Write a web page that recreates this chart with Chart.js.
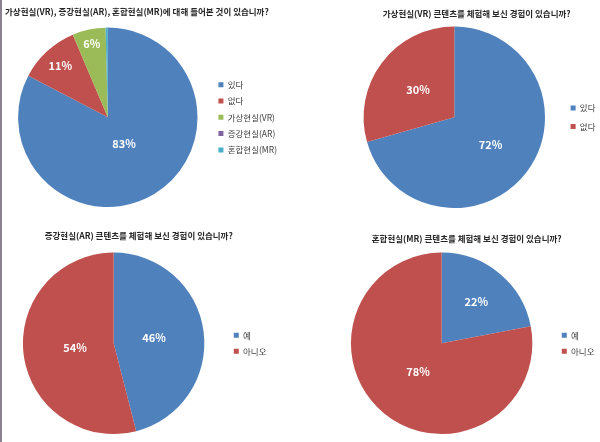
<!DOCTYPE html>
<html>
<head>
<meta charset="utf-8">
<script src="https://cdn.jsdelivr.net/npm/chart.js@4"></script>
<style>
  html, body { margin: 0; padding: 0; background: #fff; overflow: hidden; }
  #wrap { position: relative; width: 600px; height: 442px; overflow: hidden; }
  canvas { position: absolute; }
  #edge { position: absolute; left: 0; top: 0; width: 2px; height: 442px; background: #8a8290; }
</style>
</head>
<body>
<div id="wrap">
  <canvas id="c1" width="300" height="221" style="left:0;top:0"></canvas>
  <canvas id="c2" width="310" height="221" style="left:300px;top:0"></canvas>
  <canvas id="c3" width="300" height="221" style="left:0;top:221px"></canvas>
  <canvas id="c4" width="310" height="221" style="left:300px;top:221px"></canvas>
  <div id="edge"></div>
</div>
<script>
// survey answers (percent)
const q1Title = "가상현실(VR), 증강현실(AR), 혼합현실(MR)에 대해 들어본 것이 있습니까?";
const q1Labels = ["있다", "없다", "가상현실(VR)", "증강현실(AR)", "혼합현실(MR)"];
const q1Values = [83, 11, 6, 0, 0.4];

const q2Title = "가상현실(VR) 콘텐츠를 체험해 보신 경험이 있습니까?";
const q2Labels = ["있다", "없다"];
const q2Values = [72, 30];

const q3Title = "증강현실(AR) 콘텐츠를 체험해 보신 경험이 있습니까?";
const q3Labels = ["예", "아니오"];
const q3Values = [46, 54];

const q4Title = "혼합현실(MR) 콘텐츠를 체험해 보신 경험이 있습니까?";
const q4Labels = ["예", "아니오"];
const q4Values = [22, 78];

// office palette
const colors = ["#4f81bd", "#c0504d", "#9bbb59", "#8064a2", "#4bacc6"];
const fontFamily = "'Noto Sans CJK KR', 'Noto Sans', sans-serif";

// draws the % text inside each slice
const sliceLabels = {
    id: "sliceLabels",
    afterDatasetsDraw(chart, args, opts) {
        const ctx = chart.ctx;
        const meta = chart.getDatasetMeta(0);
        const values = chart.data.datasets[0].data;
        ctx.save();
        ctx.font = "bold 11px " + fontFamily;
        ctx.fillStyle = "#ffffff";
        ctx.textAlign = "center";
        ctx.textBaseline = "middle";
        meta.data.forEach((arc, i) => {
            if (values[i] < 1) return; // too thin for a label
            const p = arc.getProps(["x", "y", "startAngle", "endAngle", "outerRadius"], true);
            const mid = (p.startAngle + p.endAngle) / 2;
            const r = p.outerRadius * opts.dist[i];
            ctx.fillText(values[i] + "%", p.x + Math.cos(mid) * r, p.y + Math.sin(mid) * r);
        });
        ctx.restore();
    }
};

function makePie(id, title, labels, values, s) {
    return new Chart(document.getElementById(id), {
        type: "pie",
        data: {
            labels: labels,
            datasets: [{
                data: values,
                backgroundColor: colors.slice(0, values.length),
                borderWidth: 0
            }]
        },
        options: {
            responsive: false,
            animation: false,
            devicePixelRatio: 1,
            layout: { padding: s.padding },
            plugins: {
                title: {
                    display: true,
                    text: title,
                    align: s.titleAlign,
                    color: "#262626",
                    font: { family: fontFamily, size: 8.5, weight: "bold" },
                    padding: s.titlePad
                },
                legend: {
                    position: "right",
                    align: "center",
                    fullSize: false,
                    labels: {
                        boxWidth: 5,
                        boxHeight: 5,
                        padding: s.legendGap,
                        color: "#404040",
                        font: { family: fontFamily, size: 8.5 }
                    }
                },
                tooltip: { enabled: false },
                sliceLabels: { dist: s.labelDist }
            }
        },
        plugins: [sliceLabels]
    });
}

makePie("c1", q1Title, q1Labels, q1Values, {
    padding: { left: 5, right: 13, top: 0, bottom: 14 },
    titleAlign: "start",
    titlePad: { top: 6.8, bottom: 10.6 },
    legendGap: 7.8,
    labelDist: [0.35, 0.78, 0.84, 0.8, 0.8]
});

makePie("c2", q2Title, q2Labels, q2Values, {
    padding: { left: 48, right: 4.5, top: 0, bottom: 13 },
    titleAlign: "center",
    titlePad: { top: 8.8, bottom: 7.6 },
    legendGap: 10,
    labelDist: [0.5, 0.5]
});

makePie("c3", q3Title, q3Labels, q3Values, {
    padding: { left: 1, right: 23.5, top: 0, bottom: 8 },
    titleAlign: "center",
    titlePad: { top: 9.8, bottom: 11.6 },
    legendGap: 7.5,
    labelDist: [0.45, 0.43]
});

makePie("c4", q4Title, q4Labels, q4Values, {
    padding: { left: 29, right: 5.5, top: 0, bottom: 8 },
    titleAlign: "center",
    titlePad: { top: 12.8, bottom: 8.6 },
    legendGap: 7.5,
    labelDist: [0.6, 0.41]
});
</script>
</body>
</html>
